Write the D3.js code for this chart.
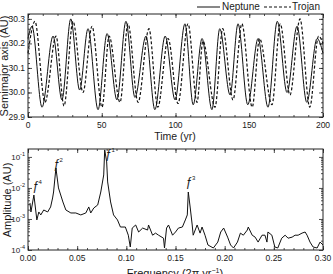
<!DOCTYPE html>
<html>
<head>
<meta charset="utf-8">
<script src="https://cdn.jsdelivr.net/npm/d3@7"></script>
<style>
body { margin: 0; background: #fff; }
svg text { font-family: "Liberation Sans", Arial, sans-serif; fill: #1a1a1a; }
</style>
</head>
<body>
<script>
var svgWidth = 333;
var svgHeight = 274;

// top panel: peaks and troughs of the semimajor axis
var neptuneTime = [0, 2.7, 9.5, 17, 23, 29, 35, 40.7, 47.5, 53.6, 60.3, 66.4, 72.5, 80, 86, 93, 99.7, 106.4, 112, 118, 124.7, 130, 137, 142.4, 149, 156, 162.7, 169, 175.6, 182.4, 189, 196, 200];
var neptuneAxis = [30.22, 30.27, 29.94, 30.23, 29.97, 30.30, 30.01, 30.26, 29.93, 30.24, 29.97, 30.29, 29.98, 30.23, 29.93, 30.23, 29.97, 30.28, 29.95, 30.22, 29.93, 30.26, 29.99, 30.28, 29.95, 30.22, 29.94, 30.29, 30.00, 30.27, 29.96, 30.22, 30.16];
var trojanTime = [0, 4.7, 11.5, 19, 24.4, 30.5, 37.3, 43.4, 50.2, 55, 62.4, 67.8, 74.6, 82, 88, 95, 101.7, 108.5, 114.6, 118.6, 126.8, 132, 139, 145, 152, 157, 165.4, 171, 177.6, 184.4, 191, 197, 200];
var trojanAxis = [30.16, 30.29, 29.96, 30.23, 29.945, 30.29, 30.00, 30.27, 29.94, 30.23, 29.96, 30.28, 29.96, 30.26, 29.94, 30.22, 29.955, 30.28, 29.96, 30.21, 29.94, 30.26, 29.97, 30.28, 29.94, 30.22, 29.95, 30.28, 29.99, 30.30, 29.94, 30.23, 30.20];
var timeTicks = [0, 50, 100, 150, 200];
var axisTicks = [29.9, 30.0, 30.1, 30.2, 30.3];

// bottom panel: amplitude spectrum
var freq = [0.002, 0.003, 0.006, 0.009, 0.011, 0.013, 0.016, 0.020, 0.023, 0.025, 0.026, 0.0284, 0.031, 0.0355, 0.0385, 0.0436, 0.0486, 0.0537, 0.0588, 0.0618, 0.0638, 0.0669, 0.0709, 0.074, 0.077, 0.078, 0.080, 0.081, 0.084, 0.087, 0.091, 0.094, 0.099, 0.102, 0.104, 0.106, 0.1095, 0.1125, 0.1166, 0.1216, 0.1226, 0.1267, 0.1297, 0.1328, 0.1378, 0.1388, 0.1409, 0.1429, 0.147, 0.150, 0.153, 0.157, 0.160, 0.162, 0.163, 0.165, 0.167, 0.168, 0.172, 0.175, 0.177, 0.180, 0.183, 0.1885, 0.193, 0.196, 0.199, 0.203, 0.206, 0.209, 0.213, 0.216, 0.219, 0.223, 0.224, 0.228, 0.231, 0.234, 0.238, 0.241, 0.243, 0.244, 0.248, 0.251, 0.254, 0.258, 0.2615, 0.2645, 0.2686, 0.2716, 0.2747, 0.2787, 0.2818, 0.2838, 0.2868, 0.2899, 0.294, 0.297, 0.300];
var amp = [0.00328, 0.00168, 0.0059, 0.00093, 0.00168, 0.00135, 0.00195, 0.00168, 0.00244, 0.00475, 0.0074, 0.0441, 0.0100, 0.00353, 0.00195, 0.00156, 0.00156, 0.00135, 0.00156, 0.00244, 0.00156, 0.00226, 0.00283, 0.0074, 0.0262, 0.168, 0.069, 0.0156, 0.00353, 0.00135, 0.00093, 0.00055, 0.00055, 0.00030, 0.000125, 0.00051, 0.00064, 0.00038, 0.00051, 0.00044, 0.00064, 0.00030, 0.00035, 0.00030, 0.00024, 0.000116, 0.00051, 0.00064, 0.00030, 0.00038, 0.00051, 0.00055, 0.00093, 0.00135, 0.0074, 0.00226, 0.00064, 0.00030, 0.00064, 0.00035, 0.00055, 0.00030, 0.000145, 0.000116, 0.00018, 0.00038, 0.00051, 0.00026, 0.000145, 0.000116, 0.00018, 0.00035, 0.00030, 0.00044, 0.00055, 0.00030, 0.00026, 0.00018, 0.00030, 0.00030, 0.00018, 0.00038, 0.00030, 0.000125, 0.000116, 0.00024, 0.00030, 0.00024, 0.00026, 0.00030, 0.00030, 0.00035, 0.00038, 0.00030, 0.00018, 0.000125, 0.000116, 0.00018, 0.000145];
var freqTicks = [0, 0.05, 0.10, 0.15, 0.20, 0.25, 0.30];
var ampTicks = [1e-4, 1e-3, 1e-2, 1e-1];
var peakNames = ["4", "2", "1", "3"];
var peakFreq = [0.004, 0.0253, 0.078, 0.160];
var peakAmp = [0.0086, 0.0441, 0.093, 0.0116];

var svg = d3.select("body")
    .append("svg")
    .attr("width", svgWidth)
    .attr("height", svgHeight);

var left = 28, right = 323;

// ---------- scales ----------
var xTime = d3.scaleLinear().domain([0, 200]).range([left, right]);
var yAxis = d3.scaleLinear().domain([29.9, 30.32]).range([117, 14]);
var xFreq = d3.scaleLinear().domain([0, 0.3]).range([left, right]);
var yAmp = d3.scaleLog().domain([1e-4, 0.18]).range([250, 149]);

// draws inward ticks on all four sides
function drawTicks(x, y, xMajor, xMinor, yMajor, yMinor) {
    var x0 = x.range()[0], x1 = x.range()[1];
    var y0 = y.range()[0], y1 = y.range()[1];
    var sets = [
        [d3.axisBottom, y0, xMajor, 4, x, "x"],
        [d3.axisBottom, y0, xMinor, 2, x, "x"],
        [d3.axisTop, y1, xMajor, 4, x, "x"],
        [d3.axisTop, y1, xMinor, 2, x, "x"],
        [d3.axisLeft, x0, yMajor, 4, y, "y"],
        [d3.axisLeft, x0, yMinor, 2, y, "y"],
        [d3.axisRight, x1, yMajor, 4, y, "y"],
        [d3.axisRight, x1, yMinor, 2, y, "y"]
    ];
    sets.forEach(function (s) {
        var g = svg.append("g")
            .attr("transform", s[5] == "x" ? "translate(0," + s[1] + ")" : "translate(" + s[1] + ",0)")
            .call(s[0](s[4]).tickValues(s[2]).tickSize(-s[3]).tickFormat(""));
        g.select(".domain").remove();
        g.selectAll("line").attr("stroke", "#222").attr("stroke-width", 0.8);
    });
    svg.append("rect")
        .attr("x", x0).attr("y", y1)
        .attr("width", x1 - x0).attr("height", y0 - y1)
        .attr("fill", "none").attr("stroke", "#222").attr("stroke-width", 1);
}

// ---------- top panel ----------
var timeMinor = d3.range(0, 201, 10);
var axisMinor = d3.range(29.9, 30.32, 0.02);
drawTicks(xTime, yAxis, timeTicks, timeMinor, axisTicks, axisMinor);

var line = d3.line().curve(d3.curveMonotoneX);
svg.append("path")
    .attr("d", line(neptuneTime.map(function (t, i) { return [xTime(t), yAxis(neptuneAxis[i])]; })))
    .attr("fill", "none").attr("stroke", "#111").attr("stroke-width", 1);
svg.append("path")
    .attr("d", line(trojanTime.map(function (t, i) { return [xTime(t), yAxis(trojanAxis[i])]; })))
    .attr("fill", "none").attr("stroke", "#111").attr("stroke-width", 1.2)
    .attr("stroke-dasharray", "3,2");

svg.selectAll("text.tt")
    .data(timeTicks)
    .enter()
    .append("text")
    .attr("class", "tt")
    .text(function (d) { return d; })
    .attr("x", function (d) { return xTime(d); })
    .attr("y", 128)
    .attr("font-size", "8.5px")
    .attr("text-anchor", "middle");

svg.selectAll("text.ta")
    .data(axisTicks)
    .enter()
    .append("text")
    .attr("class", "ta")
    .text(function (d) { return d.toFixed(1); })
    .attr("x", 25)
    .attr("y", function (d) { return yAxis(d) + 3; })
    .attr("font-size", "8.5px")
    .attr("text-anchor", "end");

svg.append("text").text("Time (yr)")
    .attr("x", 175).attr("y", 140)
    .attr("font-size", "10.5px").attr("text-anchor", "middle");
svg.append("text").text("Semimajor axis (AU)")
    .attr("transform", "translate(8,66) rotate(-90)")
    .attr("font-size", "11px").attr("text-anchor", "middle");

// legend
svg.append("line").attr("x1", 197).attr("x2", 220).attr("y1", 7).attr("y2", 7)
    .attr("stroke", "#111").attr("stroke-width", 1);
svg.append("text").text("Neptune").attr("x", 222).attr("y", 10).attr("font-size", "10px");
svg.append("line").attr("x1", 264).attr("x2", 291).attr("y1", 7).attr("y2", 7)
    .attr("stroke", "#111").attr("stroke-width", 1.2).attr("stroke-dasharray", "3,2");
svg.append("text").text("Trojan").attr("x", 292).attr("y", 10).attr("font-size", "10px");

// ---------- bottom panel ----------
var freqMinor = d3.range(0, 0.3001, 0.01);
var ampMinor = [];
ampTicks.forEach(function (d) {
    for (var k = 2; k < 10; k++) {
        if (d * k <= 0.18) ampMinor.push(d * k);
    }
});
drawTicks(xFreq, yAmp, freqTicks, freqMinor, ampTicks, ampMinor);

svg.append("path")
    .attr("d", d3.line()(freq.map(function (f, i) { return [xFreq(f), yAmp(amp[i])]; })))
    .attr("fill", "none").attr("stroke", "#111").attr("stroke-width", 1);

svg.selectAll("text.tf")
    .data(freqTicks)
    .enter()
    .append("text")
    .attr("class", "tf")
    .text(function (d) { return d.toFixed(2); })
    .attr("x", function (d) { return xFreq(d); })
    .attr("y", 261)
    .attr("font-size", "8.5px")
    .attr("text-anchor", "middle");

var ampLabels = svg.selectAll("text.tm")
    .data(ampTicks)
    .enter()
    .append("text")
    .attr("class", "tm")
    .attr("x", 25)
    .attr("y", function (d) { return yAmp(d) + 3; })
    .attr("font-size", "8px")
    .attr("text-anchor", "end");
ampLabels.append("tspan").text("10");
ampLabels.append("tspan")
    .text(function (d) { return Math.round(Math.log10(d)); })
    .attr("font-size", "5.5px")
    .attr("dy", -4);

var freqTitle = svg.append("text")
    .attr("x", 175).attr("y", 277)
    .attr("font-size", "11px").attr("text-anchor", "middle");
freqTitle.append("tspan").text("Frequency (2\u03c0 yr");
freqTitle.append("tspan").text("\u22121").attr("font-size", "7px").attr("dy", -4);
freqTitle.append("tspan").text(")").attr("dy", 4);

svg.append("text").text("Amplitude (AU)")
    .attr("transform", "translate(11,200) rotate(-90)")
    .attr("font-size", "11px").attr("text-anchor", "middle");

// peak names
var peaks = svg.selectAll("text.pk")
    .data(peakNames)
    .enter()
    .append("text")
    .attr("class", "pk")
    .attr("x", function (d, i) { return xFreq(peakFreq[i]); })
    .attr("y", function (d, i) { return yAmp(peakAmp[i]); })
    .attr("font-size", "12px")
    .attr("font-style", "italic");
peaks.append("tspan").text("\u0192");
peaks.append("tspan").text(function (d) { return d; })
    .attr("font-size", "6px").attr("dy", -6).attr("font-style", "normal");
</script>
</body>
</html>
